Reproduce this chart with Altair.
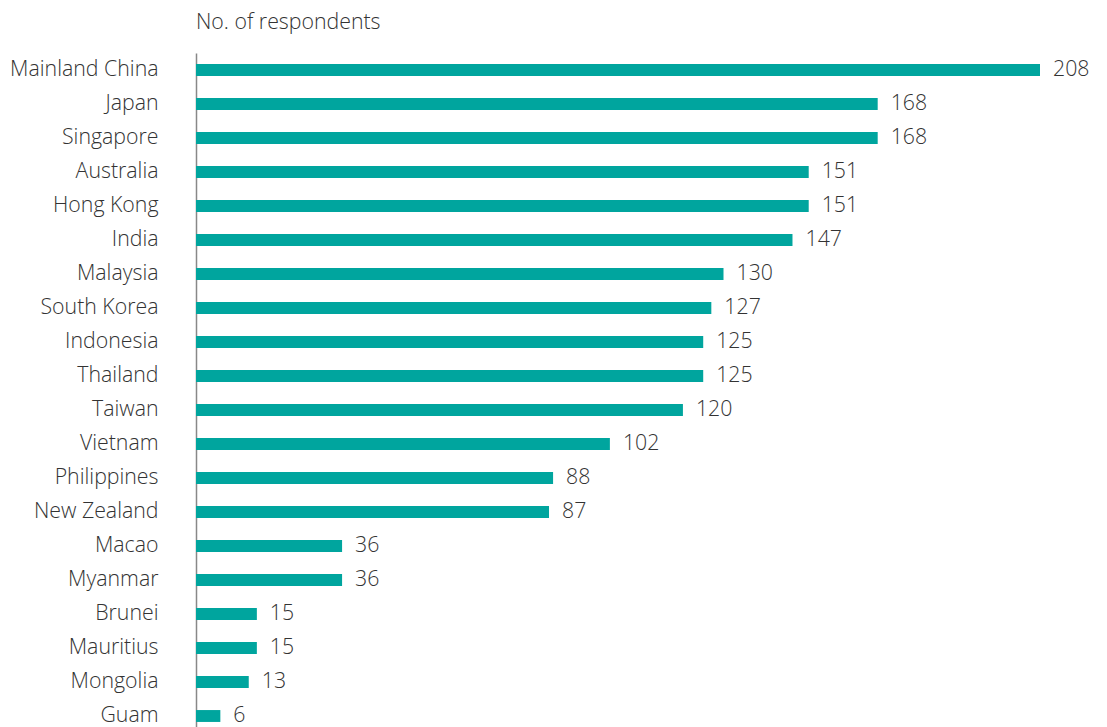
import altair as alt
import pandas as pd

countries = ["Mainland China", "Japan", "Singapore", "Australia", "Hong Kong", "India",
             "Malaysia", "South Korea", "Indonesia", "Thailand", "Taiwan", "Vietnam",
             "Philippines", "New Zealand", "Macao", "Myanmar", "Brunei", "Mauritius",
             "Mongolia", "Guam"]
respondents = [208, 168, 168, 151, 151, 147, 130, 127, 125, 125, 120, 102, 88, 87,
               36, 36, 15, 15, 13, 6]

df = pd.DataFrame({"country": countries, "n": respondents})

FONT = "Open Sans"
TEAL = "#00a59e"
TXT = "#333333"
FS = 21.3

y = alt.Y("country:N", sort=countries, title=None,
          scale=alt.Scale(paddingInner=0.65, paddingOuter=0.325),
          axis=alt.Axis(ticks=False, labelPadding=38, labelFontSize=FS, labelFont=FONT,
                        labelFontWeight=300, labelColor=TXT, domainColor="#888888",
                        domainWidth=1.5, grid=False))
x = alt.X("n:Q", title=None, scale=alt.Scale(domain=[0, 208], nice=False),
          axis=None)

bars = alt.Chart(df).mark_bar(color=TEAL).encode(y=y, x=x)
labels = alt.Chart(df).mark_text(align="left", baseline="middle", dx=13, fontSize=FS,
                                 font=FONT, fontWeight=300, color=TXT).encode(
    y=alt.Y("country:N", sort=countries), x=alt.X("n:Q"), text="n:Q")

chart = (bars + labels).properties(
    width=844, height=680,
    title=alt.TitleParams("No. of respondents", anchor="start", frame="group",
                          fontSize=FS, font=FONT, fontWeight=300, color=TXT, offset=20),
    autosize=alt.AutoSizeParams(type="none"),
    padding={"left": 188, "top": 45, "right": 58, "bottom": 10},
).configure_view(stroke=None)

chart.save("out.html", embed_options={"renderer": "svg", "actions": False})
